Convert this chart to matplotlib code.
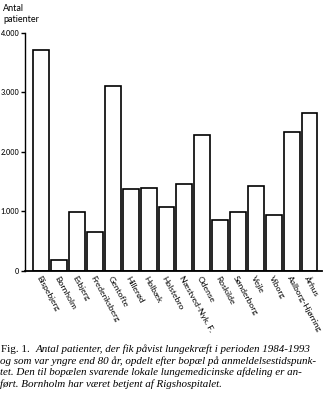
import matplotlib
matplotlib.use("Agg")
import matplotlib.pyplot as plt
from matplotlib.ticker import FixedLocator

# Lung-cancer patients by residence
regions = ["Bispebjerg", "Bornholm", "Esbjerg", "Frederiksberg", "Gentofte",
           "Hillerød", "Holbæk", "Holstebro", "Næstved-Nyk. F.", "Odense",
           "Roskilde", "Sønderborg", "Vejle", "Viborg", "Aalborg-Hjørring", "Århus"]
patients = [3720, 180, 990, 650, 3110, 1370, 1390, 1070, 1460, 2280,
            850, 980, 1420, 940, 2330, 2650]
yticks = [0, 1000, 2000, 3000, 4000]
ytick_labels = ["0", "1.000", "2.000", "3.000", "4.000"]

W, H = 323, 401
fig = plt.figure(figsize=(W / 100, H / 100), dpi=100)
ax = fig.add_axes([25 / W, (H - 270.5) / H, (322 - 25) / W, (270.5 - 33) / H])

x = list(range(len(regions)))
ax.bar(x, patients, width=0.89, facecolor="white", edgecolor="black",
       linewidth=1.2, align="center")

ax.set_xlim(-0.92, 15.7)
ax.set_ylim(0, 4000)

for s in ("top", "right"):
    ax.spines[s].set_visible(False)
ax.spines["left"].set_linewidth(1.0)
ax.spines["bottom"].set_linewidth(1.3)

sans = "Lato"
ax.yaxis.set_major_locator(FixedLocator(yticks))
ax.set_yticklabels(ytick_labels, fontsize=5.2, family=sans, fontweight="medium")
ax.tick_params(axis="y", length=3, width=1.0, pad=1.0, direction="out")

ax.set_xticks(x)
ax.set_xticklabels(regions, rotation=-61, ha="left", va="top",
                   rotation_mode="anchor", fontsize=6.1, family=sans)
ax.tick_params(axis="x", length=0, pad=3)

fig.text(3 / W, 1 - 4 / H, "Antal\npatienter", ha="left", va="top",
         fontsize=6.5, family=sans, linespacing=1.25)

# Figure caption
serif = "Liberation Serif"
cap_size = 7.9
line_y = [349, 361, 372.5, 384]
t0 = fig.text(1 / W, 1 - line_y[0] / H, "Fig. 1.  ", ha="left", va="center",
              fontsize=cap_size, family=serif)
ax.annotate("Antal patienter, der fik påvist lungekræft i perioden 1984-1993",
            xy=(1, 0.5), xycoords=t0, ha="left", va="center",
            fontsize=cap_size, family=serif, style="italic",
            annotation_clip=False)
rest = ["og som var yngre end 80 år, opdelt efter bopæl på anmeldelsestidspunk-",
        "tet. Den til bopælen svarende lokale lungemedicinske afdeling er an-",
        "ført. Bornholm har været betjent af Rigshospitalet."]
for yy, line in zip(line_y[1:], rest):
    fig.text(0 / W, 1 - yy / H, line, ha="left", va="center",
             fontsize=cap_size, family=serif, style="italic")

fig.savefig("out.png", dpi=100)
